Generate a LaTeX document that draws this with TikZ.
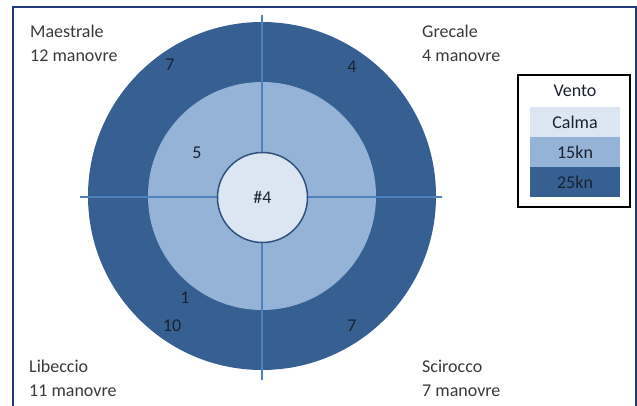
\documentclass[tikz,border=0pt]{standalone}
\usepackage{fontspec}
\setmainfont{Carlito}
\definecolor{ringdark}{HTML}{376092}
\definecolor{ringmid}{HTML}{95B3D7}
\definecolor{ringlight}{HTML}{DCE6F2}
\definecolor{axisblue}{HTML}{4F81BD}
\definecolor{framenavy}{HTML}{1F3A78}
\definecolor{txtgray}{HTML}{3A3A3A}
\definecolor{numcol}{HTML}{1A2230}
\tikzset{
  lbl/.style={anchor=base west, text=txtgray, font=\fontsize{18}{24}\selectfont, align=left, inner sep=0pt},
  num/.style={text=numcol, font=\fontsize{18}{21}\selectfont, inner sep=0pt},
  cell/.style={minimum width=90pt, minimum height=30pt, inner sep=0pt, text=numcol, font=\fontsize{18}{21}\selectfont},
  axisline/.style={axisblue, line width=2pt}
}
\begin{document}
\begin{tikzpicture}[x=1pt,y=-1pt]
\useasboundingbox (0,0) rectangle (637,405);
\fill[white] (0,0) rectangle (637,405);
\draw[framenavy, line width=2pt] (13,406) -- (13,7) -- (636,7) -- (636,406);
% rings
\node[circle, fill=ringdark, minimum size=348pt, inner sep=0pt] (outer) at (262,196) {};
\node[circle, fill=ringmid, minimum size=228pt, inner sep=0pt] (middle) at (262,196) {};
% axes
\coordinate (ntop) at (262,15);
\coordinate (nbot) at (262,380);
\coordinate (wleft) at (80,197);
\coordinate (eright) at (442,197);
\draw[axisline] (ntop) -- (nbot);
\draw[axisline] (wleft) -- (eright);
% center
\node[circle, fill=ringlight, draw=ringdark!85!black, line width=1.5pt, minimum size=90pt, inner sep=0pt, num] (center) at (262.5,197.5) {\#4};
% numbers
\node[num] (n7a) at (170,65) {7};
\node[num] (n5) at (197,153) {5};
\node[num] (n4) at (352,67) {4};
\node[num] (n1) at (185,298) {1};
\node[num] (n10) at (172,326) {10};
\node[num] (n7b) at (352,326) {7};
% wind labels (base = baseline of last line)
\node[lbl] (maestrale) at (30,61) {Maestrale\\12 manovre};
\node[lbl] (grecale) at (422,61) {Grecale\\4 manovre};
\node[lbl] (libeccio) at (29,396) {Libeccio\\11 manovre};
\node[lbl] (scirocco) at (422,396) {Scirocco\\7 manovre};
% legend
\node[draw=black, line width=2pt, minimum width=112pt, minimum height=132pt, inner sep=0pt] (legend) at (574,141) {};
\node[num] (vento) at (575,91) {Vento};
\node[cell, fill=ringlight] (calma) at (575,122) {Calma};
\node[cell, fill=ringmid] (kn15) at (575,152) {15kn};
\node[cell, fill=ringdark] (kn25) at (575,182) {25kn};
\end{tikzpicture}
\end{document}
